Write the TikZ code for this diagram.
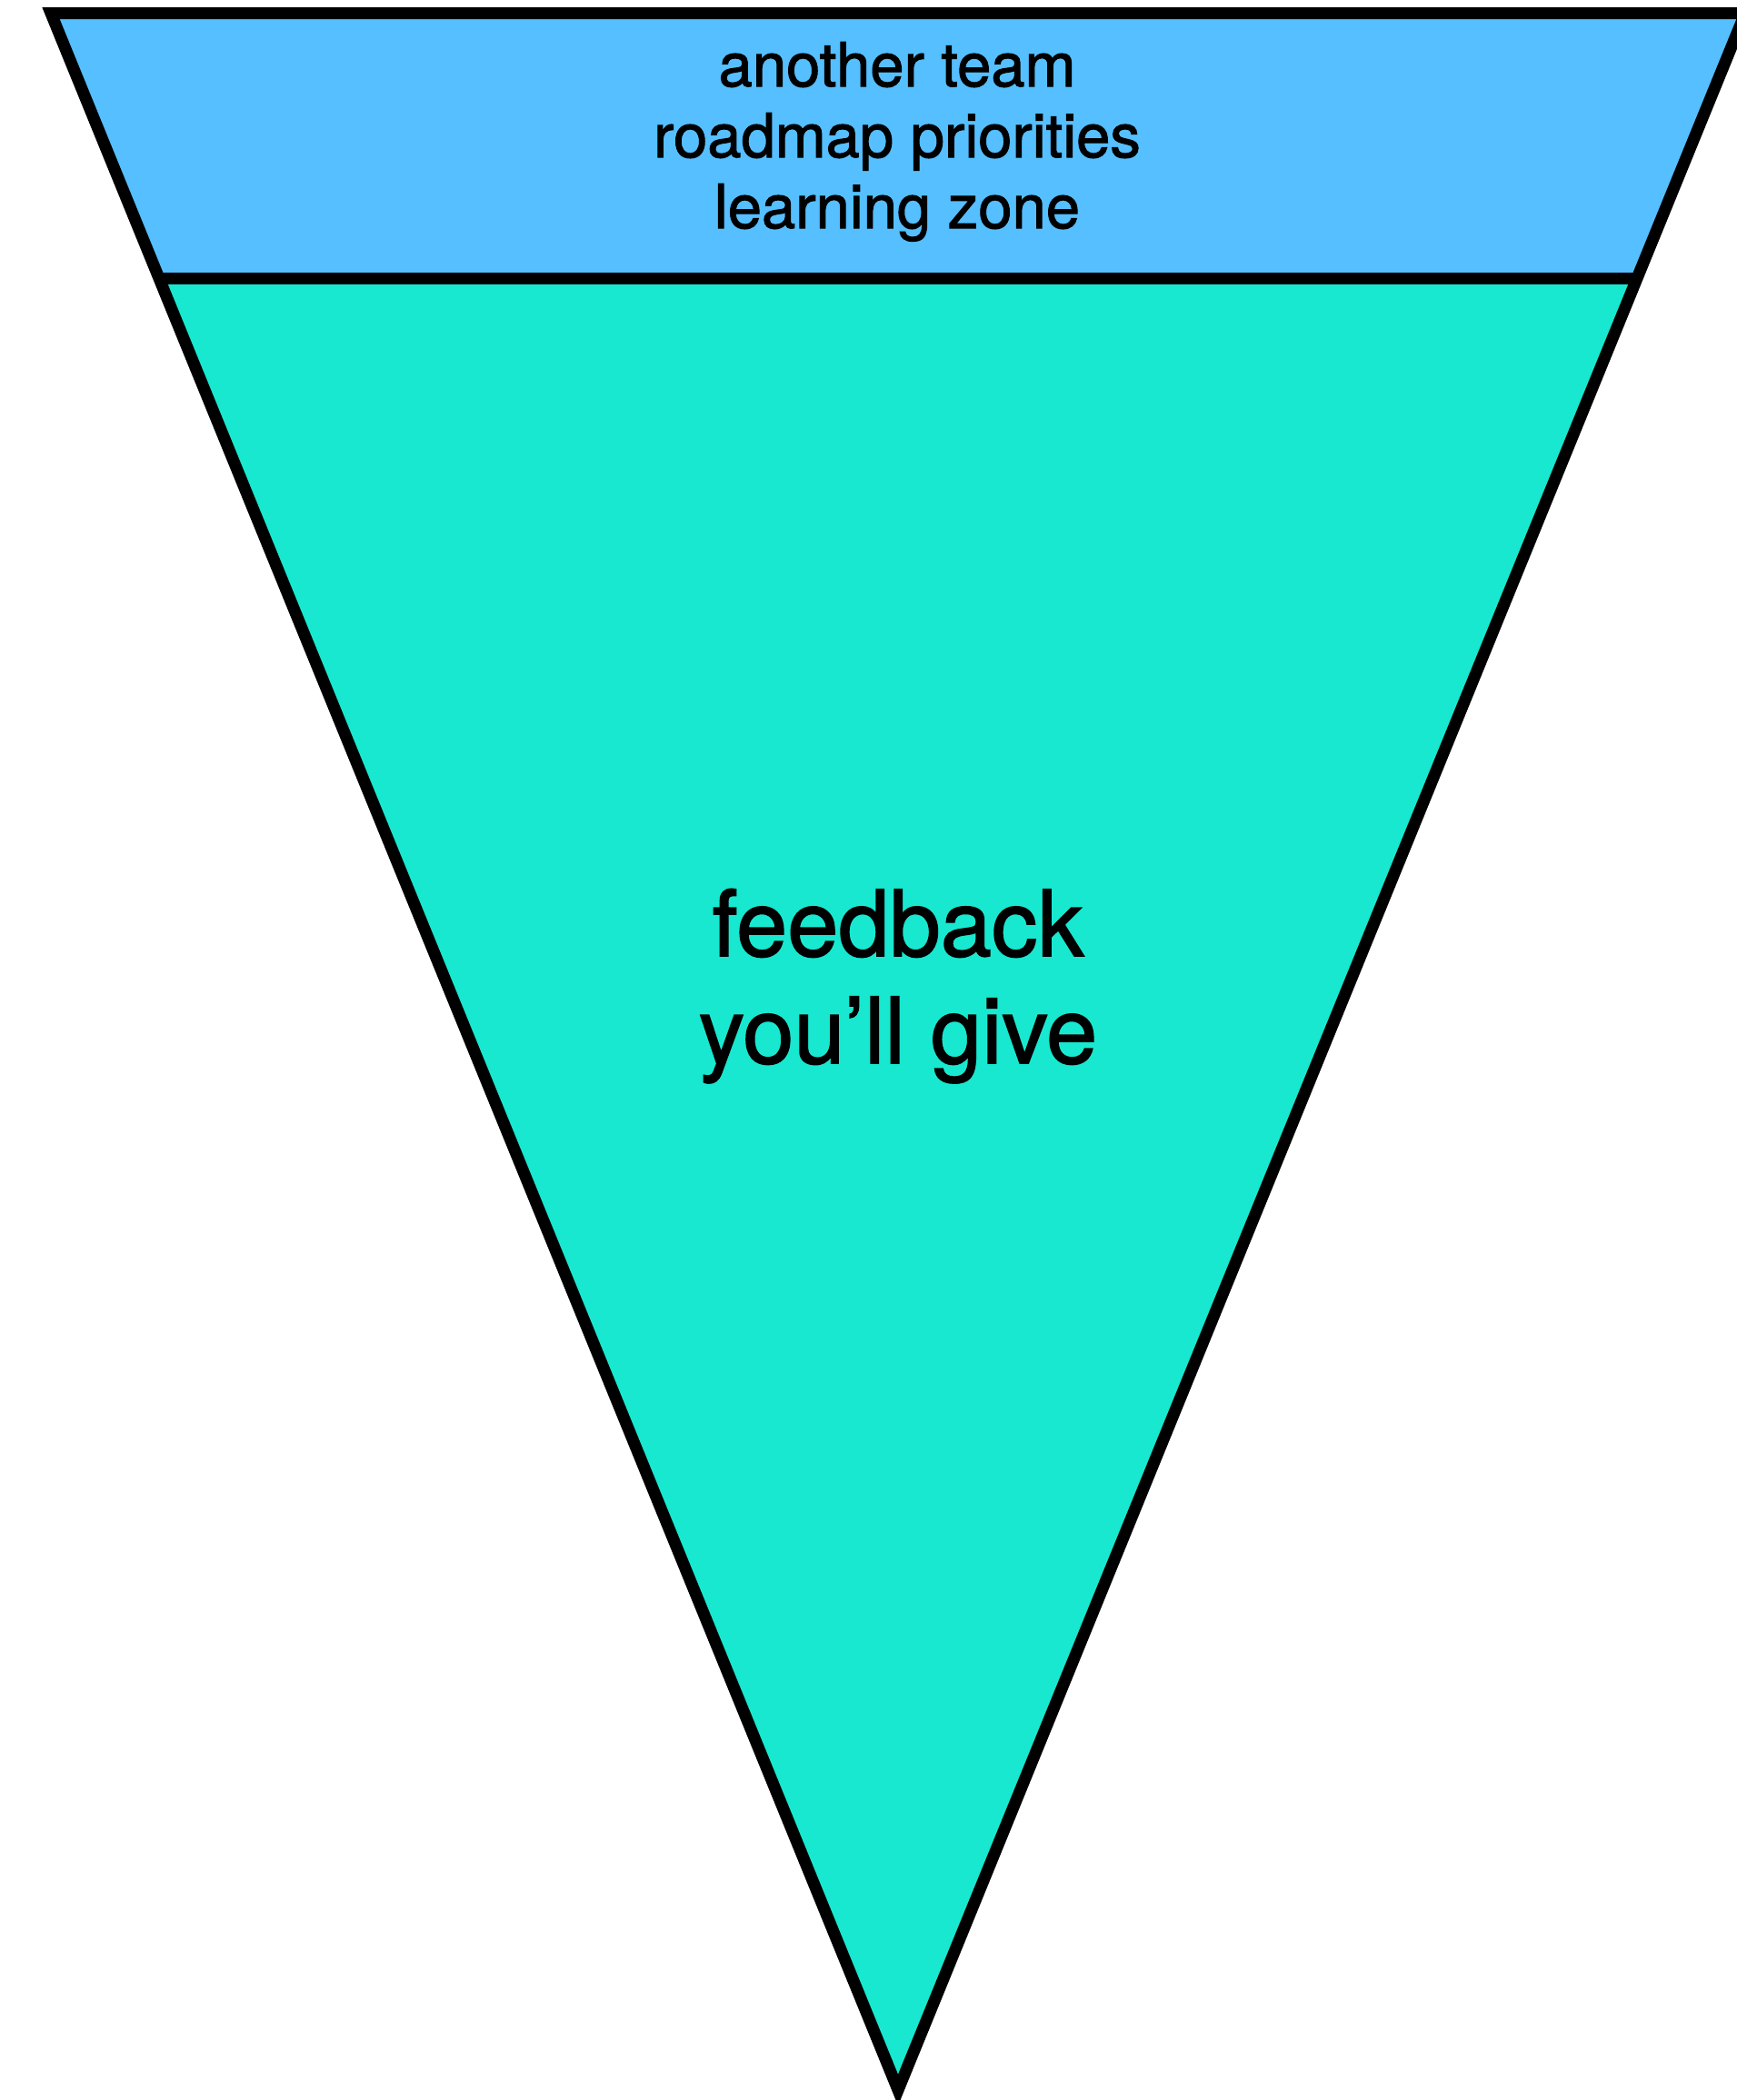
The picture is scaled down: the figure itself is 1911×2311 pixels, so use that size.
\documentclass[tikz,border=0pt]{standalone}
\usepackage{fontspec}
\setmainfont{TeX Gyre Heros}
\newfontfamily\medfont[FakeBold=1.5]{TeX Gyre Heros}
\definecolor{topblue}{HTML}{55BFFF}
\definecolor{teal}{HTML}{18E8D0}
\begin{document}
\begin{tikzpicture}[x=1pt,y=-1pt,
  outline/.style={draw=black,line width=13pt,line join=miter,miter limit=10},
  lbl/.style={inner sep=0pt,align=center,anchor=north,text=black}]
\useasboundingbox (0,0) rectangle (1911,2311);
\clip (0,0) rectangle (1911,2311);
\coordinate (A) at (56,14.5);
\coordinate (B) at (1920,14.5);
\coordinate (T) at (988,2300);
\coordinate (L) at (175.2,306.5);
\coordinate (R) at (1800.8,306.5);
\fill[topblue] (A) -- (B) -- (R) -- (L) -- cycle;
\fill[teal] (L) -- (R) -- (T) -- cycle;
\draw[outline] (A) -- (B) -- (T) -- cycle;
\draw[outline] (L) -- (R);
\node[lbl,font=\medfont\fontsize{67}{78}\selectfont] (toptext) at (987,46)
  {another team\\roadmap priorities\\learning zone};
\node[lbl,font=\medfont\fontsize{101}{118}\selectfont] (maintext) at (988,978)
  {feedback\\you’ll give};
\end{tikzpicture}
\end{document}
